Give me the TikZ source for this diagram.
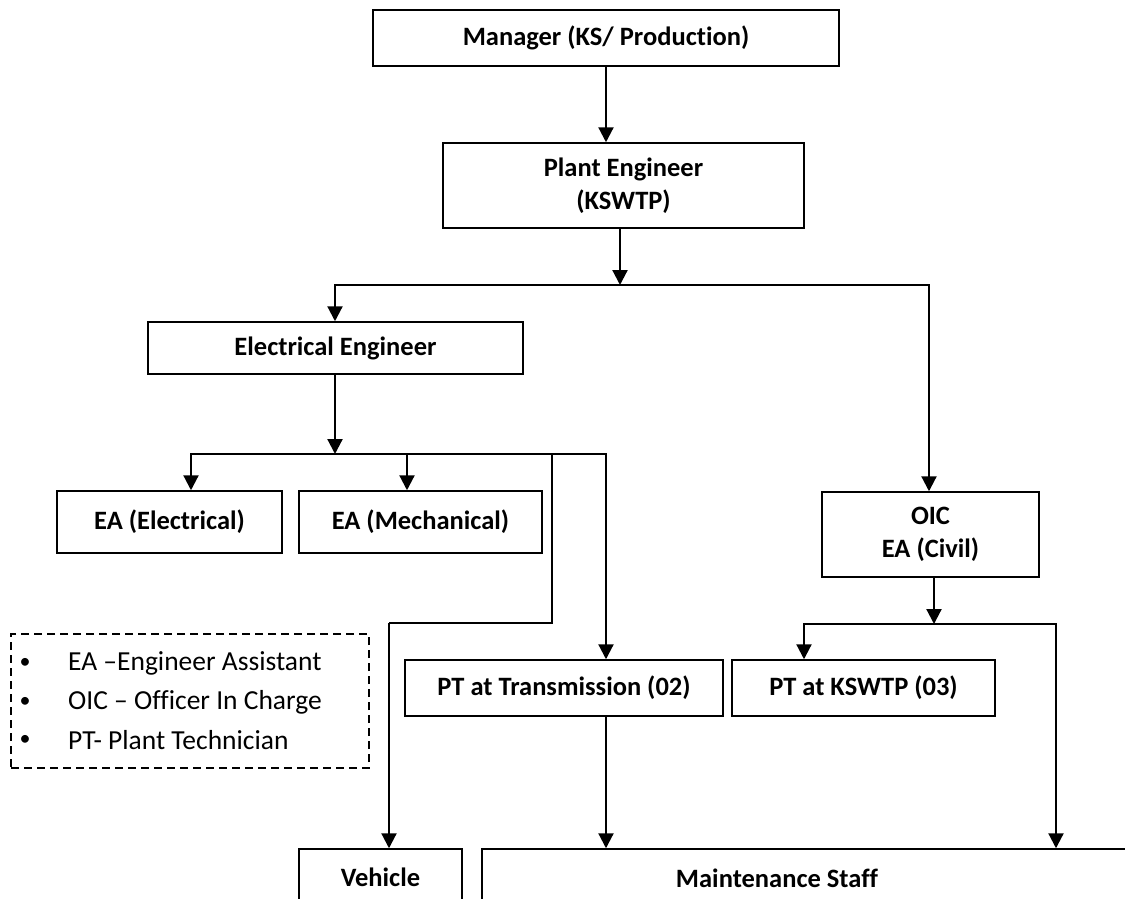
\documentclass[tikz,border=0pt]{standalone}
\usepackage{fontspec}
\setmainfont{Carlito}[Ligatures=NoCommon]
\usetikzlibrary{arrows.meta}
\begin{document}
\begin{tikzpicture}[x=1pt,y=-1pt,
  box/.style={draw, line width=1.5pt, inner sep=0pt, align=center, font=\fontsize{26.5}{33}\selectfont\bfseries},
  conn/.style={line width=2.2pt},
  arr/.style={conn, -{Triangle[length=15pt,width=15pt]}},
  legendtxt/.style={anchor=west, font=\fontsize{27.5}{30}\selectfont, inner sep=0pt},
  legendbox/.style={draw, line width=1.4pt, dash pattern=on 8pt off 5pt, inner sep=0pt}
]
\useasboundingbox (0,0) rectangle (1125,898);
\clip (0,0) rectangle (1125,898);

% boxes
\node[box, minimum width=466pt, minimum height=56pt] (mgr) at (606,38) {Manager (KS/ Production)};
\node[box, minimum width=361pt, minimum height=85pt] (pe) at (623.5,185.5) {Plant Engineer\\(KSWTP)};
\node[box, minimum width=375pt, minimum height=52pt] (ee) at (335.5,348) {Electrical Engineer};
\node[box, minimum width=225pt, minimum height=62pt] (eae) at (169.5,522) {EA (Electrical)};
\node[box, minimum width=243pt, minimum height=62pt] (eam) at (420.5,522) {EA (Mechanical)};
\node[box, minimum width=217pt, minimum height=85pt] (oic) at (930.5,534.5) {OIC\\EA (Civil)};
\node[box, minimum width=318pt, minimum height=56pt] (ptt) at (564,688) {PT at Transmission (02)};
\node[box, minimum width=263pt, minimum height=56pt] (ptk) at (863.5,688) {PT at KSWTP (03)};
\node[box, minimum width=163pt, minimum height=56pt] (veh) at (380.5,877) {Vehicle};
\node[box, minimum width=658pt, minimum height=56pt] (mnt) at (811,877) {};
\node[font=\fontsize{26.5}{33}\selectfont\bfseries] (mnttxt) at (777,878) {Maintenance Staff};

% legend
\node[legendbox, minimum width=358pt, minimum height=134pt] (leg) at (190,701) {};
\node[font=\fontsize{22}{30}\selectfont] (b1) at (25,663) {•};
\node[font=\fontsize{22}{30}\selectfont] (b2) at (25,702) {•};
\node[font=\fontsize{22}{30}\selectfont] (b3) at (25,740) {•};
\node[legendtxt] (l1) at (68,663) {EA –Engineer Assistant};
\node[legendtxt] (l2) at (68,702) {OIC – Officer In Charge};
\node[legendtxt] (l3) at (68,740) {PT- Plant Technician};

% junction coordinates
\coordinate (j1) at (620,285);
\coordinate (j1L) at (335,285);
\coordinate (j1R) at (929,285);
\coordinate (j2) at (335,454);
\coordinate (j2a) at (191,454);
\coordinate (j2b) at (407,454);
\coordinate (j2c) at (552,454);
\coordinate (j2d) at (606,454);
\coordinate (bend) at (389,623);
\coordinate (j3) at (934,624);
\coordinate (j3L) at (804,624);
\coordinate (j3R) at (1056,624);

% connectors
\draw[arr] (mgr.south) -- (pe.north -| mgr.south);
\draw[arr] (pe.south -| j1) -- (j1);
\draw[arr] (j1) -| (ee.north -| j1L);
\draw[arr] (j1) -| (oic.north -| j1R);

\draw[arr] (ee.south -| j2) -- (j2);
\draw[arr] (j2) -| (eae.north -| j2a);
\draw[arr] (j2b) -- (eam.north -| j2b);
\draw[arr] (j2) -| (ptt.north -| j2d);
\draw[conn] (j2c) |- (bend);
\draw[arr] (bend) -- (veh.north -| bend);

\draw[arr] (oic.south -| j3) -- (j3);
\draw[arr] (j3) -| (ptk.north -| j3L);
\draw[arr] (j3) -| (mnt.north -| j3R);
\draw[arr] (ptt.south -| j2d) -- (mnt.north -| j2d);
\end{tikzpicture}
\end{document}
